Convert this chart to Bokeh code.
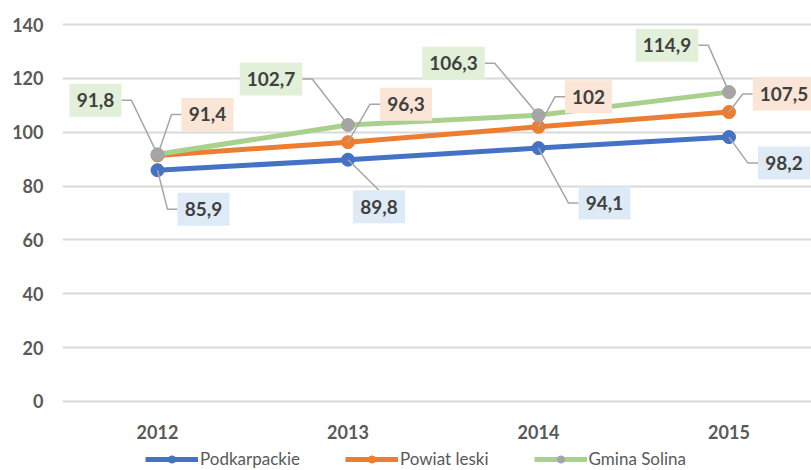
from bokeh.plotting import figure
from bokeh.layouts import column
from bokeh.models import Range1d, FixedTicker, Legend, LegendItem, ColumnDataSource
from bokeh.core.properties import value
from bokeh.embed import file_html
from bokeh.resources import INLINE

# ---- data ----
years = [2012, 2013, 2014, 2015]
year_labels = ["2012", "2013", "2014", "2015"]
podkarpackie = [85.9, 89.8, 94.1, 98.2]
powiat_leski = [91.4, 96.3, 102.0, 107.5]
gmina_solina = [91.8, 102.7, 106.3, 114.9]
y_ticks = [0, 20, 40, 60, 80, 100, 120, 140]
series_names = ["Podkarpackie", "Powiat leski", "Gmina Solina"]

# ---- layout / style ----
FONT = "Lato"
W = 811
frame_w = 749
px_per_year = 190.5
px_per_unit = 2.693
x_start = years[0] - 95 / px_per_year
y_lo, y_hi = -1.5, 141.5
frame_h = int(round((y_hi - y_lo) * px_per_unit))

line_colors = ["#4472C4", "#ED7D31", "#A9D18E"]
marker_colors = ["#4472C4", "#ED7D31", "#A5A5A5"]
label_bgs = ["#DEEBF7", "#FBE5D6", "#E2F0D9"]

# label offsets in screen pixels (dx right, dy up), and attach style
label_dx = [[46, 31, 66, 55], [50, 58, 50, 55], [-62, -77, -85, -62]]
label_dy = [[-39, -47, -55, -26], [41, 38, 30, 18], [54, 46, 52, 47]]
attach = [["side", "top", "side", "side"], ["side"] * 4, ["side"] * 4]
box_h = 33

p = figure(frame_width=frame_w, frame_height=frame_h,
           x_range=Range1d(x_start, x_start + frame_w / px_per_year),
           y_range=Range1d(y_lo, y_hi),
           output_backend="svg", toolbar_location=None,
           min_border_left=62, min_border_right=0, min_border_top=20, min_border_bottom=0,
           background_fill_color="white", border_fill_color="white", outline_line_color=None)

p.xgrid.grid_line_color = None
p.ygrid.grid_line_color = "#D9D9D9"
p.ygrid.grid_line_width = 2
p.yaxis.ticker = FixedTicker(ticks=y_ticks)
p.xaxis.ticker = FixedTicker(ticks=years)
p.xaxis.major_label_overrides = {y: l for y, l in zip(years, year_labels)}
for ax in (p.xaxis, p.yaxis):
    ax.axis_line_color = None
    ax.major_tick_line_color = None
    ax.minor_tick_line_color = None
    ax.major_tick_out = 0
    ax.major_tick_in = 0
    ax.major_label_text_font = FONT
    ax.major_label_text_font_style = "bold"
    ax.major_label_text_font_size = "18px"
    ax.major_label_text_color = "#595959"
p.yaxis.major_label_standoff = 19
p.xaxis.major_label_standoff = 19

all_series = [podkarpackie, powiat_leski, gmina_solina]
for i, vals in enumerate(all_series):
    src = ColumnDataSource(dict(x=years, y=vals))
    p.line("x", "y", source=src, line_color=line_colors[i], line_width=5)
    p.scatter("x", "y", source=src, size=13, fill_color=marker_colors[i],
              line_color=marker_colors[i])

def fmt(v):
    return f"{v:g}".replace(".", ",")

lead_xs, lead_ys = [], []
lab_x, lab_y, lab_t, lab_w, lab_c = [], [], [], [], []
for i, vals in enumerate(all_series):
    for j, (x, v) in enumerate(zip(years, vals)):
        t = fmt(v)
        digits = sum(ch.isdigit() for ch in t)
        commas = t.count(",")
        w = 15.5 + 10.5 * digits + 5 * commas
        cx = x + label_dx[i][j] / px_per_year
        cy = v + label_dy[i][j] / px_per_unit
        if attach[i][j] == "top":
            ex, ey = cx, cy + (box_h / 2) / px_per_unit
            lead_xs.append([x, ex]); lead_ys.append([v, ey])
        else:
            side = 1 if label_dx[i][j] > 0 else -1
            ex = cx - side * (w / 2) / px_per_year
            elx = ex - side * 10 / px_per_year
            lead_xs.append([x, elx, ex]); lead_ys.append([v, cy, cy])
        lab_x.append(cx); lab_y.append(cy); lab_t.append(t); lab_w.append(w)
        lab_c.append(label_bgs[i])

p.multi_line(lead_xs, lead_ys, line_color="#A6A6A6", line_width=1.5)
lsrc = ColumnDataSource(dict(x=lab_x, y=lab_y, t=lab_t, w=lab_w, c=lab_c))
p.rect("x", "y", width="w", height=box_h, width_units="screen", height_units="screen",
       fill_color="c", line_color=None, source=lsrc)
p.text("x", "y", text="t", source=lsrc, text_align="center", text_baseline="middle",
       text_font=value(FONT), text_font_style="bold", text_font_size="19px",
       text_color="#404040")

# ---- legend strip (separate small figure below the chart) ----
lg = figure(width=W, height=29, x_range=Range1d(0, 1), y_range=Range1d(0, 1),
            output_backend="svg", toolbar_location=None,
            x_axis_location=None, y_axis_location=None,
            min_border=0, outline_line_color=None,
            background_fill_color="white", border_fill_color="white")
lg.xgrid.grid_line_color = None
lg.ygrid.grid_line_color = None
legend_items = []
for i, vals in enumerate(all_series):
    src = ColumnDataSource(dict(x=years, y=vals))  # outside the strip's range: only the legend shows
    ln = lg.line("x", "y", source=src, line_color=line_colors[i], line_width=5)
    mk = lg.scatter("x", "y", source=src, size=13, fill_color=marker_colors[i],
                    line_color=marker_colors[i])
    legend_items.append(LegendItem(label=series_names[i], renderers=[ln, mk]))

legend = Legend(items=legend_items, orientation="horizontal", location=(83, 1),
                glyph_width=53, glyph_height=18, label_standoff=2, spacing=45,
                padding=0, margin=0, border_line_color=None, background_fill_alpha=0,
                label_text_font=FONT, label_text_font_size="17px",
                label_text_color="#595959", label_height=18)
lg.add_layout(legend, "center")

layout = column(p, lg, spacing=0)
open("out.html", "w").write(file_html(layout, INLINE))
